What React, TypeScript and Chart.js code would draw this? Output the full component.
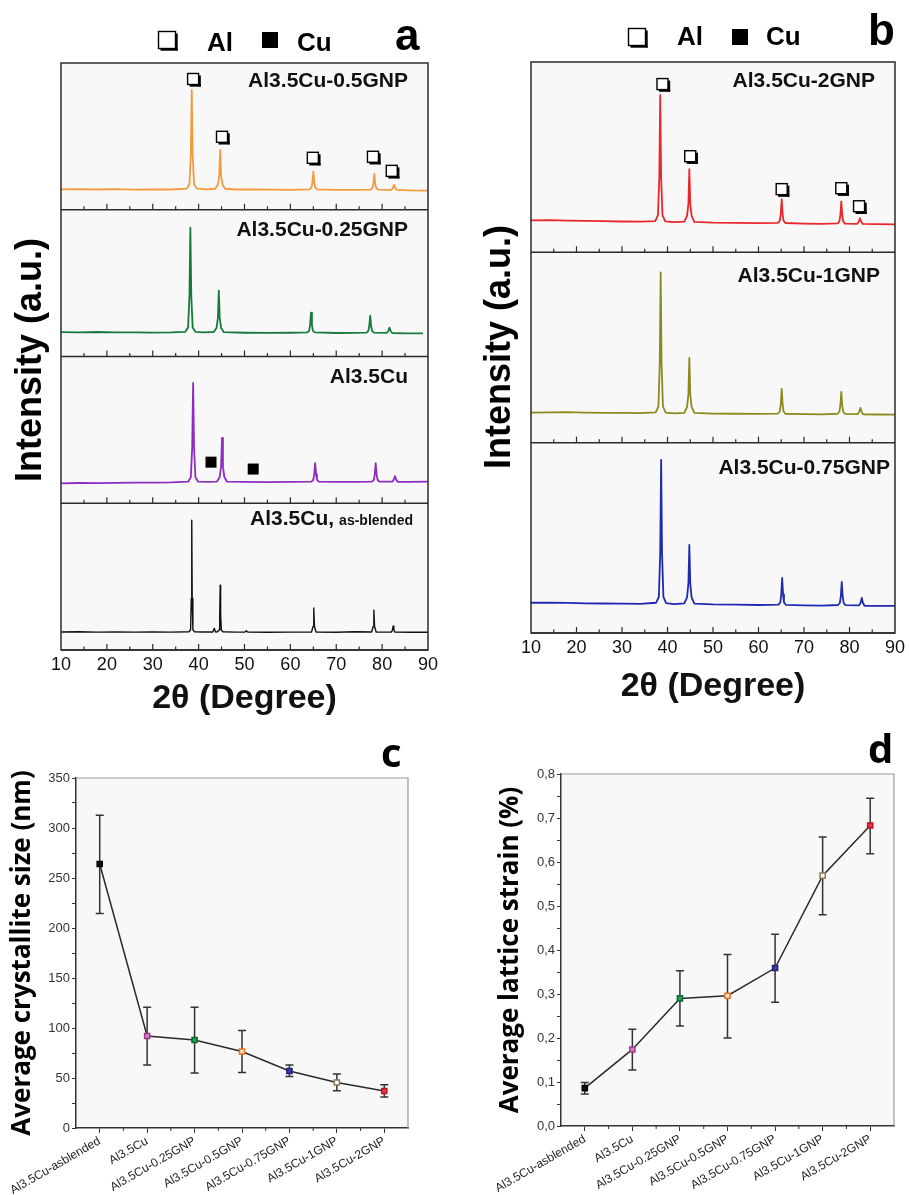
import React, { useEffect, useRef } from 'react';
import { Chart, registerables } from 'chart.js';
Chart.register(...registerables);

const FONT = '"Liberation Sans", Arial, sans-serif';
const FONT2 = '"Open Sans", "Liberation Sans", sans-serif';

// ---------- XRD patterns: [2θ (deg), intensity as % of its sub-panel height] ----------
const xrd05GNP = [[10,13.9],[14,14.1],[18,13.8],[22,14.0],[26,13.7],[30,13.9],[34,13.8],[37.4,14.4],[38.0,17.4],[38.3,37.6],[38.5,81.6],[38.7,37.6],[39.0,17.4],[39.6,14.4],[41.5,13.9],[43.6,14.3],[44.2,17],[44.5,23.3],[44.7,40.8],[44.9,23.3],[45.2,17],[45.8,14.3],[48,13.8],[52,13.9],[56,13.7],[60,13.6],[64.2,13.9],[64.6,15.2],[64.8,18.5],[65.0,25.9],[65.2,18.5],[65.4,15.2],[65.8,13.9],[70,13.5],[74,13.6],[77.5,13.7],[77.9,15],[78.1,17.8],[78.3,24.5],[78.5,17.8],[78.7,15],[79.1,13.7],[82.0,13.5],[82.35,14.8],[82.6,17],[82.85,14.8],[83.2,13.5],[86,13.2],[90,13.1]];
const xrd025GNP = [[10,16.6],[14,16.5],[18,16.7],[22,16.4],[26,16.5],[30,16.3],[34,16.4],[37.1,16.8],[37.7,19.8],[38.0,41.3],[38.2,87.8],[38.4,41.3],[38.7,19.8],[39.3,16.8],[41,16.4],[43.3,16.7],[43.9,19.4],[44.2,26.3],[44.4,44.9],[44.6,26.3],[44.9,19.4],[45.5,16.6],[50,16.2],[55,16.1],[60,16.2],[63.7,16.4],[64.1,17.6],[64.3,21.6],[64.5,29.9],[64.7,21.6],[64.9,17.6],[65.3,16.4],[70,16.0],[74,16.1],[76.6,16.3],[77.0,17.5],[77.2,20.8],[77.4,27.9],[77.6,20.8],[77.8,17.5],[78.2,16.3],[81.0,16.1],[81.35,17.4],[81.6,19.7],[81.85,17.4],[82.2,16.0],[85,15.8],[88.9,15.7]];
const xrdAl35Cu = [[10,13.6],[14,13.8],[18,13.7],[22,13.9],[26,14.0],[30,14.1],[34,14.2],[37.7,14.7],[38.3,17.7],[38.6,37.9],[38.8,82],[39.0,37.9],[39.3,17.7],[39.9,14.7],[42,14.5],[44.0,14.8],[44.6,17.9],[44.9,24.9],[45.1,44.5],[45.3,24.9],[45.6,17.9],[46.2,14.7],[50,14.5],[55,14.4],[60,14.5],[64.6,14.8],[65.0,16],[65.2,19.7],[65.4,27.4],[65.6,19.7],[65.8,16],[66.2,14.8],[70,14.5],[74,14.6],[77.8,14.8],[78.2,16],[78.4,19.7],[78.6,27.4],[78.8,19.7],[79.0,16],[79.4,14.8],[82.2,14.7],[82.55,16.1],[82.8,18.5],[83.05,16.1],[83.4,14.6],[86,14.6],[90,14.7]];
const xrdAsBlended = [[10,12.3],[14,12.4],[18,12.2],[22,12.3],[26,12.2],[30,12.3],[34,12.2],[37.9,12.4],[38.25,13.8],[38.4,35],[38.5,88.4],[38.6,35],[38.75,13.8],[39.1,12.4],[41,12.3],[43.1,12.3],[43.4,14.8],[43.7,12.3],[44.1,12.4],[44.45,13.6],[44.6,24],[44.7,44.2],[44.8,24],[44.95,13.6],[45.3,12.4],[48,12.2],[50.1,12.2],[50.4,13.1],[50.7,12.2],[55,12.1],[60,12.2],[64.6,12.3],[64.95,16],[65.1,28.6],[65.25,16],[65.6,12.3],[70,12.1],[74,12.4],[77.7,12.3],[78.05,16],[78.2,27.2],[78.35,16],[78.7,12.3],[82.0,12.2],[82.25,13.6],[82.4,16.3],[82.55,13.6],[82.8,12.2],[86,12.1],[90,12.1]];
const xrd2GNP = [[10,16.8],[14,16.9],[18,16.7],[22,16.5],[26,16.4],[30,16.2],[34,16.1],[37.3,16.4],[37.9,19.5],[38.2,39.3],[38.4,82.6],[38.6,39.3],[38.9,19.5],[39.5,16.3],[41.5,15.9],[43.7,16.1],[44.3,19.2],[44.6,25.5],[44.8,43.7],[45.0,25.5],[45.3,19.2],[45.9,16.0],[50,15.6],[55,15.5],[60,15.3],[64.3,15.5],[64.7,16.7],[64.9,20.3],[65.1,27.9],[65.3,20.3],[65.5,16.7],[65.9,15.4],[70,15.1],[74,15.0],[77.4,15.2],[77.8,16.4],[78.0,19.7],[78.2,26.8],[78.4,19.7],[78.6,16.4],[79.0,15.1],[81.7,15.0],[82.05,16.2],[82.3,17.9],[82.55,16.2],[82.9,14.9],[86,14.8],[90,14.7]];
const xrd1GNP = [[10,15.8],[14,15.9],[18,16.0],[22,15.8],[26,15.7],[30,15.6],[34,15.5],[37.4,15.9],[38.0,19],[38.3,41.4],[38.5,89.5],[38.7,41.4],[39.0,19],[39.6,15.8],[41.5,15.4],[43.7,15.7],[44.3,18.8],[44.6,25.5],[44.8,44.5],[45.0,25.5],[45.3,18.8],[45.9,15.6],[50,15.3],[55,15.2],[60,15.1],[64.3,15.3],[64.7,16.5],[64.9,20.2],[65.1,28.3],[65.3,20.2],[65.5,16.5],[65.9,15.2],[70,15.0],[74,14.9],[77.4,15.2],[77.8,16.4],[78.0,19.6],[78.2,26.7],[78.4,19.6],[78.6,16.4],[79.0,15.1],[81.8,15.0],[82.15,16.3],[82.4,18.3],[82.65,16.3],[83.0,14.9],[86,14.8],[90,14.7]];
const xrd075GNP = [[10,15.9],[14,16.0],[18,15.8],[22,15.6],[26,15.5],[30,15.4],[34,15.3],[37.5,15.9],[38.1,19],[38.4,41.9],[38.6,91],[38.8,41.9],[39.1,19],[39.7,15.7],[41.5,15.2],[43.7,15.6],[44.3,18.7],[44.6,26.1],[44.8,46.3],[45.0,26.1],[45.3,18.7],[45.9,15.4],[50,15.0],[55,14.9],[60,14.7],[64.4,14.9],[64.8,16.1],[65.0,20.3],[65.2,28.9],[65.4,20.3],[65.6,16.1],[66.0,14.8],[70,14.5],[74,14.4],[77.5,14.7],[77.9,15.9],[78.1,19.4],[78.3,26.8],[78.5,19.4],[78.7,15.9],[79.1,14.6],[82.1,14.5],[82.45,15.9],[82.7,18.4],[82.95,15.9],[83.3,14.3],[86,14.2],[90,14.2]];

// Phase markers (2θ, height in sub-panel %)
const alMarksA = [[38.8,89.1],[45.1,49.7],[64.9,35.4],[78.0,36.1],[82.1,26.5]];
const cuMarksA = [[42.7,28],[51.9,23.3]];
const alMarksB = [[38.9,88.4],[45.0,50.5],[65.1,33.2],[78.2,33.7],[82.1,24.2]];

const xrdTickLabels = [10, 20, 30, 40, 50, 60, 70, 80, 90];
const xrdMajorTicks = [20, 30, 40, 50, 60, 70, 80];
const xrdMinorTicks = [15, 25, 35, 45, 55, 65, 75, 85];

// ---------- Crystallite size / lattice strain ----------
const samples = ['Al3.5Cu-asblended', 'Al3.5Cu', 'Al3.5Cu-0.25GNP', 'Al3.5Cu-0.5GNP', 'Al3.5Cu-0.75GNP', 'Al3.5Cu-1GNP', 'Al3.5Cu-2GNP'];
const crystalliteSize = [264, 92, 88, 76.5, 57, 45.5, 37];
const crystalliteLow = [214.6, 62.9, 54.9, 55.5, 51.5, 37.2, 30.9];
const crystalliteHigh = [312.8, 120.8, 120.8, 97.4, 62.9, 53.9, 43.2];
const latticeStrain = [0.086, 0.174, 0.29, 0.296, 0.359, 0.569, 0.683];
const strainLow = [0.073, 0.127, 0.227, 0.2, 0.281, 0.48, 0.619];
const strainHigh = [0.099, 0.22, 0.353, 0.39, 0.436, 0.657, 0.745];
const sizeTickLabels = ['0', '50', '100', '150', '200', '250', '300', '350'];
const strainTickLabels = ['0,0', '0,1', '0,2', '0,3', '0,4', '0,5', '0,6', '0,7', '0,8'];
const markerFill = ['#111111', '#d27fc4', '#2f9a5c', '#fbe2cc', '#3d3d9c', '#ffffff', '#e23a44'];
const markerEdge = ['#000000', '#9a3a8a', '#006a30', '#f07020', '#20207a', '#8a7a50', '#c01020'];

const BG = '#f8f8f8';

function openSquare(ctx: CanvasRenderingContext2D, cx: number, cy: number, s: number) {
  ctx.fillStyle = '#ffffff';
  ctx.fillRect(cx - s / 2, cy - s / 2, s, s);
  ctx.strokeStyle = '#000';
  ctx.lineWidth = 1.4;
  ctx.strokeRect(cx - s / 2, cy - s / 2, s, s);
  ctx.fillStyle = '#000';
  ctx.fillRect(cx + s / 2, cy - s / 2 + 2, 2.2, s);
  ctx.fillRect(cx - s / 2 + 2, cy + s / 2, s + 0.2, 2.2);
}

function xrdPlugin(cfg: any) {
  return {
    id: 'xrdDeco',
    beforeDraw(chart: any) {
      const { ctx, chartArea: a } = chart;
      ctx.save();
      ctx.fillStyle = BG;
      ctx.fillRect(a.left, a.top, a.right - a.left, a.bottom - a.top);
      ctx.restore();
    },
    afterDraw(chart: any) {
      const { ctx, chartArea: a } = chart;
      const xs = chart.scales.x;
      ctx.save();
      ctx.strokeStyle = '#2b2b2b';
      ctx.lineWidth = 1.5;
      for (const id of cfg.axes) {
        const ys = chart.scales[id];
        ctx.beginPath();
        ctx.moveTo(a.left, ys.bottom);
        ctx.lineTo(a.right, ys.bottom);
        ctx.stroke();
        ctx.lineWidth = 1.2;
        for (const v of xrdMajorTicks) {
          const px = xs.getPixelForValue(v);
          ctx.beginPath(); ctx.moveTo(px, ys.bottom); ctx.lineTo(px, ys.bottom - 6); ctx.stroke();
        }
        for (const v of xrdMinorTicks) {
          const px = xs.getPixelForValue(v);
          ctx.beginPath(); ctx.moveTo(px, ys.bottom); ctx.lineTo(px, ys.bottom - 3.5); ctx.stroke();
        }
        ctx.lineWidth = 1.5;
      }
      ctx.strokeRect(a.left, a.top, a.right - a.left, a.bottom - a.top);

      // sub-panel labels
      ctx.fillStyle = '#111';
      ctx.textBaseline = 'alphabetic';
      ctx.textAlign = 'right';
      for (const lb of cfg.labels) {
        const ys = chart.scales[lb.axis];
        let right = a.right - lb.right;
        const base = ys.top + lb.dy;
        if (lb.small) {
          ctx.font = `bold 14px ${FONT}`;
          ctx.fillText(lb.small, right, base);
          right -= ctx.measureText(lb.small).width + 5;
        }
        ctx.font = `bold 21px ${FONT}`;
        ctx.fillText(lb.text, right, base);
      }
      // phase markers
      for (const m of cfg.alMarks) {
        const ys = chart.scales[m.axis];
        for (const [x, y] of m.pts) openSquare(ctx, xs.getPixelForValue(x), ys.getPixelForValue(y), 11);
      }
      for (const m of cfg.cuMarks) {
        const ys = chart.scales[m.axis];
        ctx.fillStyle = '#000';
        for (const [x, y] of m.pts) {
          const px = xs.getPixelForValue(x), py = ys.getPixelForValue(y);
          ctx.fillRect(px - 5.5, py - 5.5, 11, 11);
        }
      }
      // legend
      const lg = cfg.legend;
      openSquare(ctx, lg.sqX, lg.sqY, 17);
      ctx.fillStyle = '#000';
      ctx.fillRect(lg.cuSqX - 8, lg.sqY - 8, 16, 16);
      ctx.textAlign = 'left';
      ctx.font = `bold 26px ${FONT}`;
      ctx.fillText('Al', lg.alX, lg.base);
      ctx.fillText('Cu', lg.cuX, lg.base);
      ctx.font = `bold 44px ${FONT}`;
      ctx.fillText(lg.letter, lg.letterX, lg.letterBase);
      // y title
      ctx.translate(cfg.yTitle.x, cfg.yTitle.y);
      ctx.rotate(-Math.PI / 2);
      ctx.textAlign = 'center';
      ctx.textBaseline = 'middle';
      ctx.font = `bold 36px ${FONT}`;
      ctx.fillText('Intensity (a.u.)', 0, 0);
      ctx.restore();
    },
  };
}

function xrdConfig(series: { data: number[][]; color: string; width: number }[], axes: string[], pad: any, xHeight: number, titlePad: number, tickPad: number, plugin: any) {
  const scales: any = {
    x: {
      type: 'linear', min: 10, max: 90,
      afterBuildTicks: (s: any) => { s.ticks = xrdTickLabels.map((v) => ({ value: v })); },
      ticks: { font: { size: 18, family: FONT }, color: '#111', padding: tickPad },
      grid: { display: false, drawTicks: false },
      border: { display: false },
      title: { display: true, text: '2θ (Degree)', font: { size: 34, weight: 'bold', family: FONT }, color: '#111', padding: { top: 0, bottom: titlePad } },
      afterFit: (s: any) => { s.height = xHeight; },
    },
  };
  axes.forEach((id) => {
    scales[id] = {
      type: 'linear', position: 'right', stack: 'xrd', stackWeight: 1, min: 0, max: 100,
      ticks: { display: false }, grid: { display: false, drawTicks: false }, border: { display: false },
      afterFit: (s: any) => { s.width = 0; },
    };
  });
  return {
    type: 'line',
    data: {
      datasets: series.map((s, i) => ({
        data: s.data.map(([x, y]) => ({ x, y })),
        yAxisID: axes[i],
        borderColor: s.color,
        borderWidth: s.width,
        borderJoinStyle: 'round',
        pointRadius: 0,
        tension: 0,
        fill: false,
      })),
    },
    options: {
      animation: false,
      responsive: false,
      maintainAspectRatio: false,
      layout: { padding: pad },
      plugins: { legend: { display: false }, tooltip: { enabled: false } },
      scales,
    },
    plugins: [plugin],
  } as any;
}

function scatterPlugin(cfg: any) {
  return {
    id: 'scatterDeco',
    beforeDraw(chart: any) {
      const { ctx, chartArea: a } = chart;
      ctx.save();
      ctx.fillStyle = BG;
      ctx.fillRect(a.left, a.top, a.right - a.left, a.bottom - a.top);
      ctx.restore();
    },
    beforeDatasetsDraw(chart: any) {
      const { ctx } = chart;
      const xs = chart.scales.x, ys = chart.scales.y;
      ctx.save();
      ctx.strokeStyle = '#333';
      ctx.lineWidth = 1.5;
      cfg.low.forEach((lo: number, i: number) => {
        const px = xs.getPixelForValue(i);
        const y1 = ys.getPixelForValue(lo), y2 = ys.getPixelForValue(cfg.high[i]);
        ctx.beginPath();
        ctx.moveTo(px, y1); ctx.lineTo(px, y2);
        ctx.moveTo(px - 4, y1); ctx.lineTo(px + 4, y1);
        ctx.moveTo(px - 4, y2); ctx.lineTo(px + 4, y2);
        ctx.stroke();
      });
      ctx.restore();
    },
    afterDraw(chart: any) {
      const { ctx, chartArea: a } = chart;
      const xs = chart.scales.x;
      ctx.save();
      ctx.strokeStyle = '#9a9a9a';
      ctx.lineWidth = 1.2;
      ctx.beginPath();
      ctx.moveTo(a.left, a.top); ctx.lineTo(a.right, a.top); ctx.lineTo(a.right, a.bottom);
      ctx.stroke();
      ctx.strokeStyle = '#333';
      ctx.lineWidth = 1;
      for (let i = 0; i < cfg.low.length - 1; i++) {
        const px = xs.getPixelForValue(i + 0.5);
        ctx.beginPath(); ctx.moveTo(px, a.bottom); ctx.lineTo(px, a.bottom + 3); ctx.stroke();
      }
      ctx.fillStyle = '#000';
      ctx.textAlign = 'left';
      ctx.textBaseline = 'alphabetic';
      ctx.font = `bold 40px ${FONT2}`;
      ctx.fillText(cfg.letter, cfg.letterX, cfg.letterBase);
      ctx.restore();
    },
  };
}

function scatterConfig(values: number[], max: number, step: number, tickLabels: string[], title: string, pad: any, yWidth: number, xHeight: number, titlePad: number, pointStyle: string, plugin: any) {
  return {
    type: 'line',
    data: {
      labels: samples,
      datasets: [{
        data: values,
        borderColor: '#2a2a2a',
        borderWidth: 1.5,
        tension: 0,
        pointStyle,
        pointRadius: 3.6,
        pointBorderWidth: 1.5,
        pointBackgroundColor: markerFill,
        pointBorderColor: markerEdge,
      }],
    },
    options: {
      animation: false,
      responsive: false,
      maintainAspectRatio: false,
      layout: { padding: pad },
      plugins: { legend: { display: false }, tooltip: { enabled: false } },
      scales: {
        x: {
          type: 'category', offset: true,
          grid: { offset: false, drawOnChartArea: false, tickLength: 5, color: '#333' },
          border: { color: '#333', width: 1.5 },
          ticks: { font: { size: 12, family: FONT }, color: '#222', minRotation: 30, maxRotation: 30, autoSkip: false, padding: 1 },
          afterFit: (s: any) => { s.height = xHeight; },
        },
        y: {
          min: 0, max,
          ticks: {
            stepSize: step,
            font: { size: 13, family: FONT }, color: '#333', padding: 2,
            callback: (_v: any, i: number) => (i % 2 === 0 ? tickLabels[i / 2] : ''),
          },
          grid: { drawOnChartArea: false, tickLength: 4, color: '#333' },
          border: { color: '#333', width: 1.5 },
          title: { display: true, text: title, font: { size: 26, weight: 'bold', family: FONT2 }, color: '#000', padding: { top: titlePad, bottom: 0 } },
          afterFit: (s: any) => { s.width = yWidth; },
        },
      },
    },
    plugins: [plugin],
  } as any;
}

export default function App() {
  const refA = useRef<HTMLCanvasElement>(null);
  const refB = useRef<HTMLCanvasElement>(null);
  const refC = useRef<HTMLCanvasElement>(null);
  const refD = useRef<HTMLCanvasElement>(null);

  useEffect(() => {
    const axesA = ['y0', 'y1', 'y2', 'y3'];
    const chartA = new Chart(refA.current as HTMLCanvasElement, xrdConfig(
      [
        { data: xrd05GNP, color: '#f39a3d', width: 1.8 },
        { data: xrd025GNP, color: '#177a3c', width: 1.8 },
        { data: xrdAl35Cu, color: '#8e2cc2', width: 1.8 },
        { data: xrdAsBlended, color: '#111111', width: 1.4 },
      ],
      axesA, { left: 61, top: 63, right: 22, bottom: 0 }, 80, 11, 4,
      xrdPlugin({
        axes: axesA,
        labels: [
          { axis: 'y0', text: 'Al3.5Cu-0.5GNP', right: 20, dy: 24 },
          { axis: 'y1', text: 'Al3.5Cu-0.25GNP', right: 20, dy: 26 },
          { axis: 'y2', text: 'Al3.5Cu', right: 20, dy: 26 },
          { axis: 'y3', text: 'Al3.5Cu,', small: 'as-blended', right: 15, dy: 22 },
        ],
        alMarks: [{ axis: 'y0', pts: alMarksA }],
        cuMarks: [{ axis: 'y2', pts: cuMarksA }],
        legend: { sqX: 167, sqY: 40, alX: 207, cuSqX: 270, cuX: 297, base: 51, letter: 'a', letterX: 395, letterBase: 50 },
        yTitle: { x: 31, y: 360 },
      })
    ));
    const axesB = ['y0', 'y1', 'y2'];
    const chartB = new Chart(refB.current as HTMLCanvasElement, xrdConfig(
      [
        { data: xrd2GNP, color: '#e8262b', width: 1.8 },
        { data: xrd1GNP, color: '#8c8a1e', width: 1.8 },
        { data: xrd075GNP, color: '#1f2ab0', width: 1.8 },
      ],
      axesB, { left: 76, top: 62, right: 12, bottom: 0 }, 87, 13, 4,
      xrdPlugin({
        axes: axesB,
        labels: [
          { axis: 'y0', text: 'Al3.5Cu-2GNP', right: 20, dy: 25 },
          { axis: 'y1', text: 'Al3.5Cu-1GNP', right: 15, dy: 30 },
          { axis: 'y2', text: 'Al3.5Cu-0.75GNP', right: 5, dy: 31 },
        ],
        alMarks: [{ axis: 'y0', pts: alMarksB }],
        cuMarks: [],
        legend: { sqX: 182, sqY: 37, alX: 222, cuSqX: 285, cuX: 311, base: 45, letter: 'b', letterX: 413, letterBase: 45 },
        yTitle: { x: 45, y: 347 },
      })
    ));
    const chartC = new Chart(refC.current as HTMLCanvasElement, scatterConfig(
      crystalliteSize, 350, 25, sizeTickLabels, 'Average crystallite size (nm)',
      { left: 0, top: 48, right: 42, bottom: 0 }, 76, 67, 7, 'rect',
      scatterPlugin({ low: crystalliteLow, high: crystalliteHigh, letter: 'c', letterX: 381, letterBase: 37 })
    ));
    const chartD = new Chart(refD.current as HTMLCanvasElement, scatterConfig(
      latticeStrain, 0.8, 0.05, strainTickLabels, 'Average lattice strain (%)',
      { left: 40, top: 44, right: 15, bottom: 0 }, 66, 69, 0, 'rect',
      scatterPlugin({ low: strainLow, high: strainHigh, letter: 'd', letterX: 413, letterBase: 33 })
    ));
    return () => {
      chartA.destroy();
      chartB.destroy();
      chartC.destroy();
      chartD.destroy();
    };
  }, []);

  const abs = (left: number, top: number): React.CSSProperties => ({ position: 'absolute', left, top });
  return (
    <div style={{ position: 'absolute', left: 0, top: 0, width: 909, height: 1195, background: '#ffffff', overflow: 'hidden' }}>
      <canvas ref={refA} width={450} height={730} style={abs(0, 0)} />
      <canvas ref={refB} width={454} height={720} style={abs(455, 0)} />
      <canvas ref={refC} width={450} height={465} style={abs(0, 730)} />
      <canvas ref={refD} width={454} height={465} style={abs(455, 730)} />
    </div>
  );
}
